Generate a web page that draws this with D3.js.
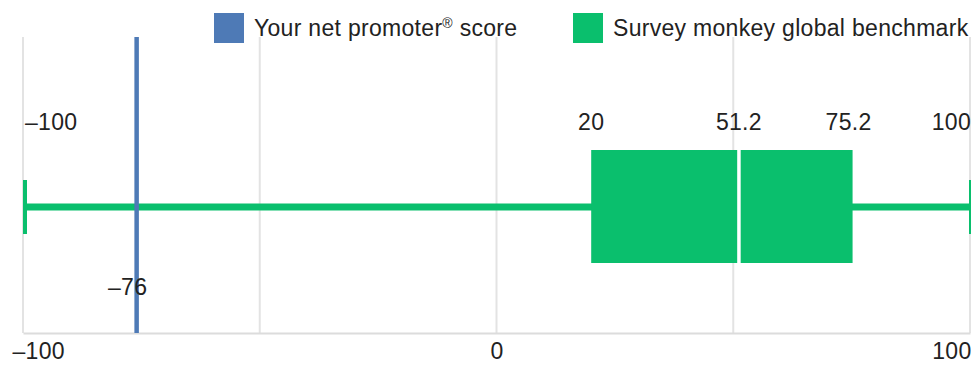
<!DOCTYPE html>
<html>
<head>
<meta charset="utf-8">
<script src="https://cdn.jsdelivr.net/npm/d3@7"></script>
<style>
  html, body { margin: 0; padding: 0; background: #fff; }
  svg { display: block; font-family: "Liberation Sans", Arial, sans-serif; }
</style>
</head>
<body>
<svg id="chart" width="971" height="365"></svg>
<script>
// Benchmark distribution (min, Q1, median, Q3, max) and the respondent's score
const benchmarkKeys = ["min", "q1", "median", "q3", "max"];
const benchmarkValues = [-100, 20, 51.2, 75.2, 100];
const yourScore = [-76];
const axisTicks = [-100, 0, 100];
const gridTicks = [-100, -50, 0, 50, 100];
const legendLabels = ["Your net promoter® score", "Survey monkey global benchmark"];
const legendColors = ["#4e7ab6", "#0abf6d"];

const bench = Object.fromEntries(benchmarkKeys.map((k, i) => [k, benchmarkValues[i]]));
const fmt = v => (v < 0 ? "\u2013" + Math.abs(v) : String(v));

const svg = d3.select("#chart");
const FS = 23, LS = 0.3;
const plot = { left: 23, right: 970, top: 37, bottom: 333 };
const x = d3.scaleLinear().domain([-100, 100]).range([plot.left, plot.right]);
const yMid = 207;
const boxH = 113;
const capH = 54;

// vertical grid lines
svg.append("g").selectAll("line").data(gridTicks).join("line")
  .attr("x1", d => x(d)).attr("x2", d => x(d))
  .attr("y1", plot.top).attr("y2", plot.bottom)
  .attr("stroke", "#e3e3e3").attr("stroke-width", 2);

// bottom axis
const axis = d3.axisBottom(x).tickValues(axisTicks).tickSize(0).tickPadding(10).tickFormat(fmt);
const gAxis = svg.append("g").attr("transform", `translate(0,${plot.bottom})`).call(axis);
gAxis.select(".domain").attr("stroke", "#dcdcdc").attr("stroke-width", 2);
gAxis.selectAll("text").attr("font-size", FS).attr("fill", "#222").attr("letter-spacing", LS)
  .attr("font-family", "Liberation Sans, Arial, sans-serif");
gAxis.selectAll(".tick").filter(d => d === -100).select("text")
  .attr("text-anchor", "start").attr("dx", -11);
gAxis.selectAll(".tick").filter(d => d === 100).select("text")
  .attr("text-anchor", "end").attr("dx", 1);

const green = legendColors[1], blue = legendColors[0];

// whisker line
svg.append("line")
  .attr("x1", x(bench.min)).attr("x2", x(bench.max))
  .attr("y1", yMid).attr("y2", yMid)
  .attr("stroke", green).attr("stroke-width", 7);

// whisker caps
svg.append("g").selectAll("line").data([bench.min, bench.max]).join("line")
  .attr("x1", d => x(d) + (d === bench.min ? 2 : 1)).attr("x2", d => x(d) + (d === bench.min ? 2 : 1))
  .attr("y1", yMid - capH / 2).attr("y2", yMid + capH / 2)
  .attr("stroke", green).attr("stroke-width", 4);

// interquartile box
svg.append("rect")
  .attr("x", x(bench.q1)).attr("width", x(bench.q3) - x(bench.q1))
  .attr("y", yMid - boxH / 2 - 0.5).attr("height", boxH)
  .attr("fill", green);

// median separator
svg.append("line")
  .attr("x1", x(bench.median)).attr("x2", x(bench.median))
  .attr("y1", yMid - boxH / 2 - 0.5).attr("y2", yMid + boxH / 2 - 0.5)
  .attr("stroke", "#fff").attr("stroke-width", 3.5);

// respondent score line
svg.append("line")
  .attr("x1", x(yourScore[0])).attr("x2", x(yourScore[0]))
  .attr("y1", plot.top).attr("y2", plot.bottom)
  .attr("stroke", blue).attr("stroke-width", 4.5);

// benchmark value labels
svg.append("g").selectAll("text").data(benchmarkValues).join("text")
  .attr("x", (d, i) => i === 0 ? x(d) + 2 : i === benchmarkValues.length - 1 ? x(d) + 1 : x(d) - (i === 3 ? 4 : 0))
  .attr("y", 130)
  .attr("text-anchor", (d, i) => i === 0 ? "start" : i === benchmarkValues.length - 1 ? "end" : "middle")
  .attr("font-size", FS).attr("letter-spacing", LS).attr("fill", "#222")
  .text(fmt);

// score label
svg.append("text")
  .attr("x", x(yourScore[0]) - 9).attr("y", 295)
  .attr("text-anchor", "middle").attr("font-size", FS).attr("letter-spacing", LS).attr("fill", "#222")
  .text(fmt(yourScore[0]));

// legend
const legendX = [214, 573];
const lg = svg.append("g").selectAll("g").data(legendLabels).join("g")
  .attr("transform", (d, i) => `translate(${legendX[i]},13)`);
lg.append("rect").attr("width", 30).attr("height", 30).attr("fill", (d, i) => legendColors[i]);
lg.append("text").attr("x", 40).attr("y", 23)
  .attr("font-size", FS).attr("letter-spacing", LS).attr("fill", "#222")
  .each(function (d) {
    const t = d3.select(this);
    const parts = d.split("®");
    t.append("tspan").text(parts[0]);
    if (parts.length > 1) {
      t.append("tspan").attr("font-size", 14).attr("dy", -8).text("®");
      t.append("tspan").attr("dy", 8).text(parts[1]);
    }
  });
</script>
</body>
</html>
